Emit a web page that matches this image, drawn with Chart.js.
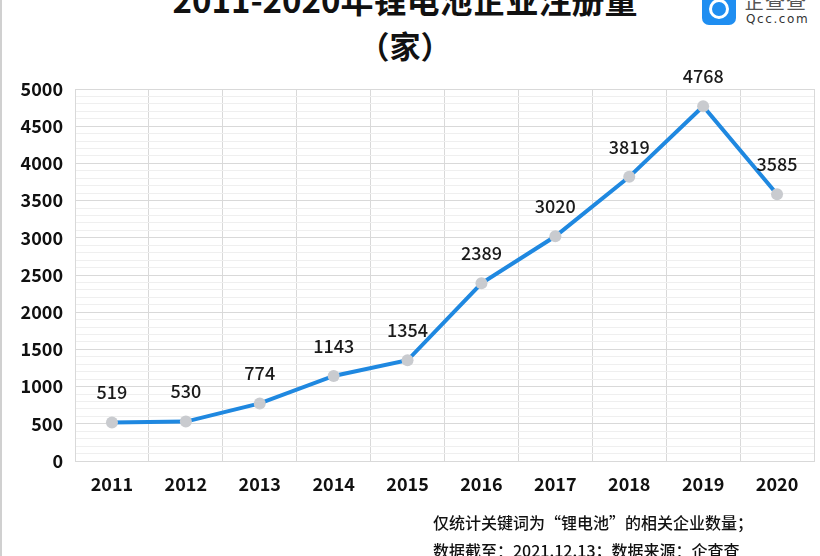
<!DOCTYPE html>
<html><head><meta charset="utf-8">
<script src="https://cdn.jsdelivr.net/npm/chart.js@4.4.1/dist/chart.umd.min.js"></script>
<style>
html,body{margin:0;padding:0;background:#fff;}
#wrap{position:relative;width:820px;height:556px;overflow:hidden;font-family:"Noto Sans CJK SC","Noto Sans",sans-serif;}
#c{position:absolute;left:0;top:0;}
.t{position:absolute;left:0;width:810px;text-align:center;font-weight:bold;color:#111;white-space:nowrap;}
#t1{top:-23px;font-size:33px;line-height:44px;}
#t2{top:24px;font-size:31px;line-height:42px;}
#note{position:absolute;left:433px;top:508px;font-size:16px;line-height:28px;color:#111;font-weight:500;white-space:nowrap;}
#lb{position:absolute;left:0;top:0;width:2px;height:556px;background:#d0d0d0;}
#logo{position:absolute;left:702px;top:-9px;width:34px;height:34px;border-radius:7px;background:#1f8ef1;}
#logo:after{content:"";position:absolute;left:7px;top:8px;width:14px;height:14px;border:3px solid #fff;border-radius:50%;}
#lt1{position:absolute;left:744px;top:-14px;font-size:20px;color:#555;font-weight:400;letter-spacing:1px;}
#lt2{position:absolute;left:746px;top:12px;font-size:12px;color:#333;letter-spacing:1.6px;font-family:"DejaVu Sans",sans-serif;}
</style></head>
<body><div id="wrap">
<div id="lb"></div>
<div class="t" id="t1">2011-2020年锂电池企业注册量</div>
<div class="t" id="t2">（家）</div>
<div id="logo"></div><div id="lt1">企查查</div><div id="lt2">Qcc.com</div>
<canvas id="c" width="820" height="556"></canvas>
<div id="note">仅统计关键词为“锂电池”的相关企业数量；<br>数据截至：2021.12.13；数据来源：企查查</div>
</div>
<script>
const years = ['2011','2012','2013','2014','2015','2016','2017','2018','2019','2020'];
const registrations = [519, 530, 774, 1143, 1354, 2389, 3020, 3819, 4768, 3585];
const yMax = 5000;
const yMajorStep = 500;
const yMinorStep = 100;

const labelPlugin = {
  id: 'valueLabels',
  afterDatasetsDraw(chart) {
    const ctx = chart.ctx;
    const meta = chart.getDatasetMeta(0);
    ctx.save();
    ctx.font = '500 18px "Noto Sans CJK SC", "Noto Sans", sans-serif';
    ctx.fillStyle = '#1a1a1a';
    ctx.textAlign = 'center';
    ctx.textBaseline = 'middle';
    meta.data.forEach((pt, i) => {
      ctx.fillText(String(registrations[i]), pt.x, pt.y - 30);
    });
    ctx.restore();
  }
};

new Chart(document.getElementById('c'), {
  type: 'line',
  data: {
    labels: years,
    datasets: [{
      data: registrations,
      borderColor: '#1f88e0',
      borderWidth: 4,
      pointBackgroundColor: '#c9cbcf',
      pointBorderColor: '#c9cbcf',
      pointRadius: 6,
      pointBorderWidth: 0,
      tension: 0
    }]
  },
  options: {
    responsive: false,
    animation: false,
    devicePixelRatio: 1,
    layout: { padding: { top: 89, right: 3, left: 0, bottom: 0 } },
    plugins: { legend: { display: false }, tooltip: { enabled: false }, title: { display: false } },
    scales: {
      x: {
        offset: true,
        grid: { offset: true, color: '#d9d9d9', lineWidth: 1, drawTicks: false },
        border: { color: '#d9d9d9' },
        ticks: { color: '#111', font: { family: '"Noto Sans CJK SC", sans-serif', size: 18, weight: 'bold' }, padding: 12 },
        afterFit(s) { s.height = 95; }
      },
      y: {
        min: 0, max: yMax,
        grid: {
          color: ctx => (ctx.tick && ctx.tick.value % yMajorStep === 0) ? '#d9d9d9' : '#efefef',
          lineWidth: 1, drawTicks: false
        },
        border: { color: '#d9d9d9' },
        ticks: {
          stepSize: yMinorStep, autoSkip: false,
          color: '#111', font: { family: '"Noto Sans CJK SC", sans-serif', size: 18, weight: 'bold' },
          padding: 12,
          callback: v => (v % yMajorStep === 0 ? String(v) : '')
        },
        afterFit(s) { s.width = 75; }
      }
    }
  },
  plugins: [labelPlugin]
});
</script>
</body></html>
